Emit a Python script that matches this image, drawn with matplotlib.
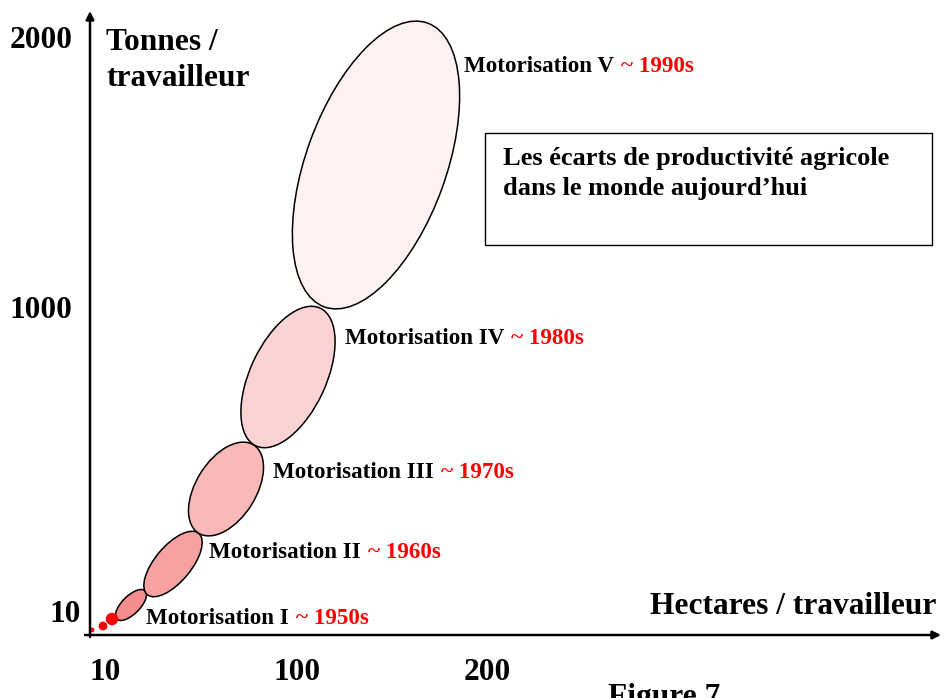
import matplotlib.pyplot as plt
from matplotlib.patches import Ellipse, Rectangle

# Schematic coordinates (1 unit = 1 px, origin at the axes corner)
stages = ['Motorisation I', 'Motorisation II', 'Motorisation III',
          'Motorisation IV', 'Motorisation V']
decades = ['~ 1950s', '~ 1960s', '~ 1970s', '~ 1980s', '~ 1990s']
centre_x = [41, 83, 136, 198, 286]
centre_y = [30, 71, 146, 258, 470]
long_axis = [40, 80, 104, 152, 302]
short_axis = [18, 36, 60, 76, 140]
tilt = [45, 50, 58, 65, 70]
fills = ['#F48E8E', '#F7A2A2', '#F9B9B9', '#FCD3D3', '#FEF1F1']
label_x = [56, 119, 183, 255, 374]
label_y = [17, 82, 162, 296, 568]

# Manual hand-tool dots near the origin
dot_x = [2, 13, 22]
dot_y = [5, 9, 16]
dot_size = [12, 40, 80]

xtick_pos = [15, 207, 397]
xtick_labels = ['10', '100', '200']
ytick_pos = [20, 324, 595]
ytick_x = [-25, -49, -49]
ytick_labels = ['10', '1000', '2000']

plt.rcParams['font.family'] = ['Liberation Serif', 'DejaVu Serif']
plt.rcParams['font.weight'] = 'bold'

fig = plt.figure(figsize=(9.46, 6.98), dpi=100)
ax = fig.add_axes([0, 0, 1, 1])
ax.set_xlim(-90, 856)
ax.set_ylim(-63, 635)
ax.axis('off')

for cx, cy, w, h, a, c in zip(centre_x, centre_y, long_axis, short_axis, tilt, fills):
    ax.add_patch(Ellipse((cx, cy), w, h, angle=a, facecolor=c,
                         edgecolor='black', linewidth=1.1, zorder=2))

ax.scatter(dot_x, dot_y, s=dot_size, color='red', zorder=3, linewidths=0)

for s, d, x, y in zip(stages, decades, label_x, label_y):
    t = ax.text(x, y, s, fontsize=16.6, va='center', ha='left', color='black')
    ax.annotate(d, xy=(1, 0), xycoords=t, xytext=(5, 0), textcoords='offset points',
                fontsize=16.6, va='bottom', ha='left', color='red')

# axes arrows
ax.annotate('', xy=(0, 624), xytext=(0, -2),
            arrowprops=dict(arrowstyle='-|>', lw=1.8, color='black',
                            mutation_scale=12, shrinkA=0, shrinkB=0))
ax.annotate('', xy=(851, 0), xytext=(-5, 0),
            arrowprops=dict(arrowstyle='-|>', lw=1.8, color='black',
                            mutation_scale=12, shrinkA=0, shrinkB=0))

for x, lab in zip(xtick_pos, xtick_labels):
    ax.text(x, -37, lab, fontsize=22.6, ha='center', va='center')
for x, y, lab in zip(ytick_x, ytick_pos, ytick_labels):
    ax.text(x, y, lab, fontsize=22.6, ha='center', va='center')

ax.text(16, 593, 'Tonnes /', fontsize=22.6, ha='left', va='center')
ax.text(16, 557, 'travailleur', fontsize=22.6, ha='left', va='center')
ax.text(560, 29, 'Hectares / travailleur', fontsize=22.6, ha='left', va='center')

ax.add_patch(Rectangle((395, 390), 447, 112, facecolor='white',
                       edgecolor='black', linewidth=1.0))
ax.text(413, 477, 'Les écarts de productivité agricole', fontsize=19,
        ha='left', va='center')
ax.text(413, 447, 'dans le monde aujourd\u2019hui', fontsize=19,
        ha='left', va='center')

ax.text(518, -48, 'Figure 7', fontsize=22.6, ha='left', va='top')

fig.savefig('out.png', dpi=100)
